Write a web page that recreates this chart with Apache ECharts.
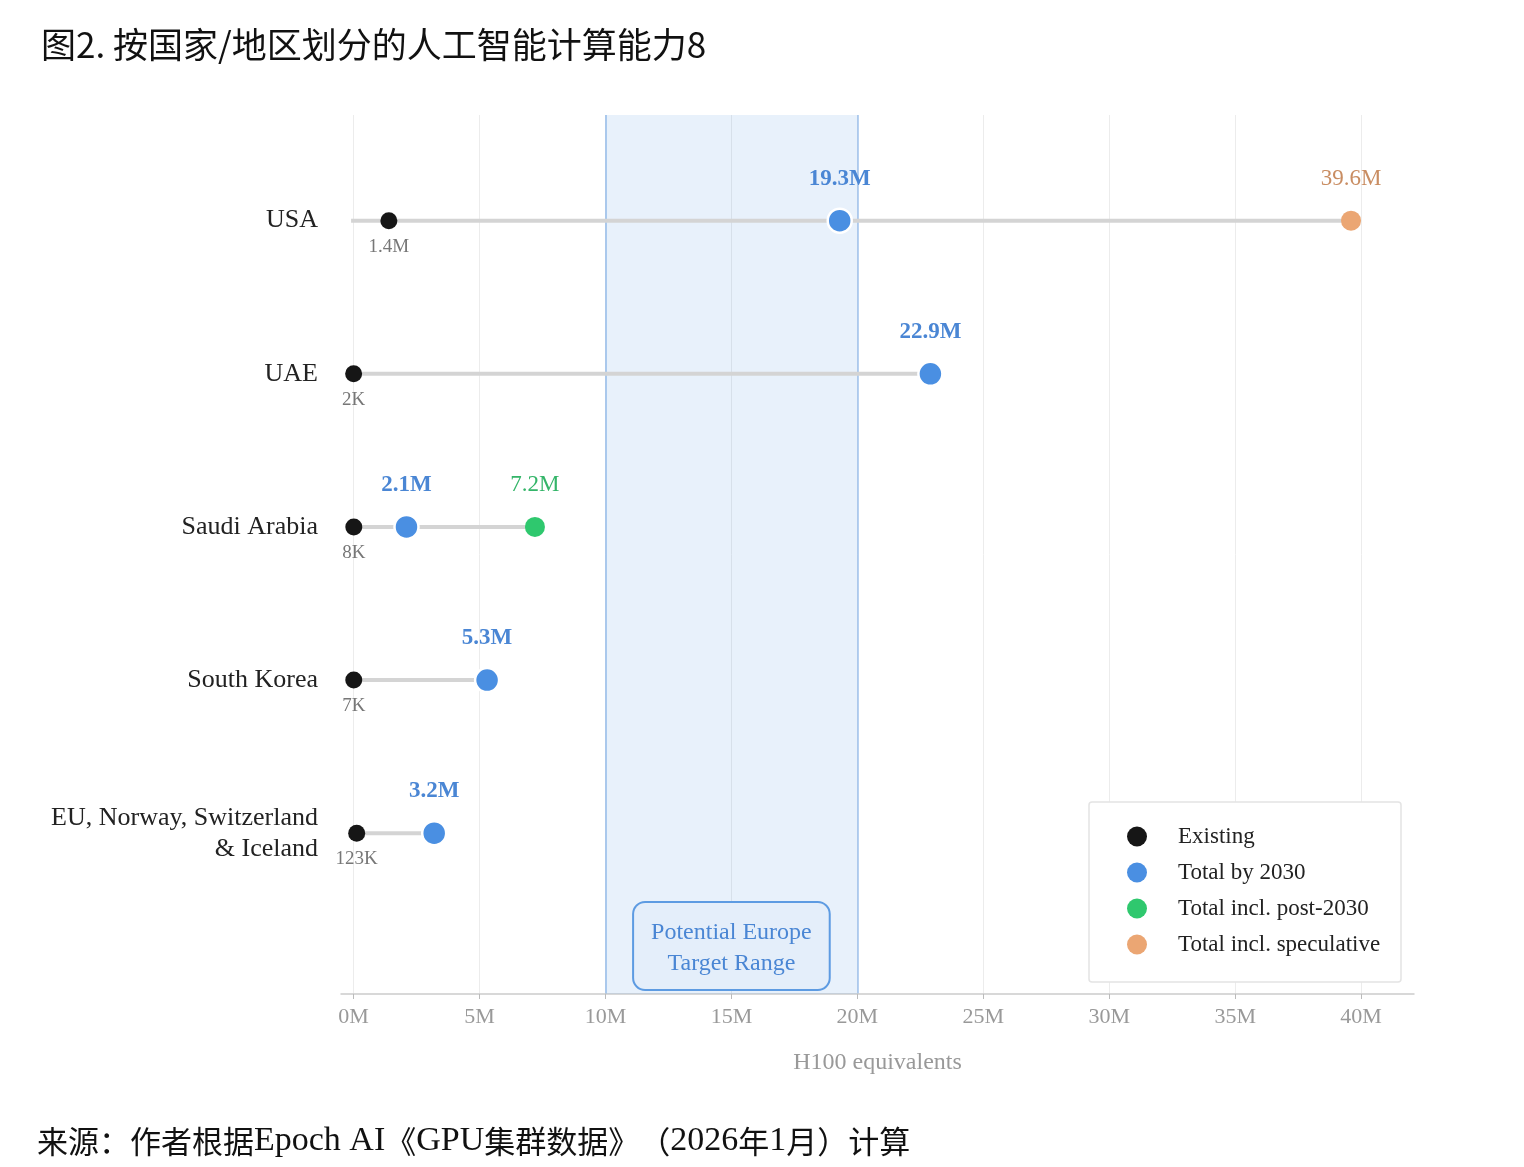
<!DOCTYPE html>
<html>
<head>
<meta charset="utf-8">
<script src="https://cdn.jsdelivr.net/npm/echarts@6/dist/echarts.min.js"></script>
<style>
html, body { margin: 0; padding: 0; background: #fff; }
#main { width: 1524px; height: 1167px; }
</style>
</head>
<body>
<div id="main"></div>
<script>
// data (millions of H100 equivalents)
var countries = ['USA', 'UAE', 'Saudi Arabia', 'South Korea', 'EU, Norway, Switzerland\n& Iceland'];
var existing = [1.4, 0.002, 0.008, 0.007, 0.123];
var existingLabels = ['1.4M', '2K', '8K', '7K', '123K'];
var total2030 = [19.3, 22.9, 2.1, 5.3, 3.2];
var totalPost2030 = [null, null, 7.2, null, null];
var totalSpeculative = [39.6, null, null, null, null];
var xTicks = [0, 5, 10, 15, 20, 25, 30, 35, 40];
var targetRange = [10, 20];

var serif = 'Liberation Serif';
var cjk = 'Noto Sans CJK SC';
var blue = '#4a8fe2';

function points(arr) {
    var out = [];
    arr.forEach(function (v, i) {
        if (v != null) out.push([v, i]);
    });
    return out;
}

// grey connector from 0 to the largest value in each row
var rowMax = countries.map(function (c, i) {
    return Math.max(existing[i], total2030[i] || 0, totalPost2030[i] || 0, totalSpeculative[i] || 0);
});
var connectors = rowMax.map(function (m, i) { return [m, i]; });

var gridLines = xTicks.map(function (t) { return { xAxis: t }; });
gridLines.push({ xAxis: targetRange[0], lineStyle: { color: '#9fc2ec', width: 1.5, type: 'solid' } });
gridLines.push({ xAxis: targetRange[1], lineStyle: { color: '#9fc2ec', width: 1.5, type: 'solid' } });

// source line: CJK parts in a CJK font, latin parts in serif
var sourceText = '{c|来源：作者根据}{l|Epoch AI}{c|《}{l|GPU}{c|集群数据》}{c|（}{l|2026}{c|年}{l|1}{c|月）}{c|计算}';

var chart = echarts.init(document.getElementById('main'));

var option = {
    backgroundColor: '#fff',
    animation: false,
    title: {
        text: '图2. 按国家/地区划分的人工智能计算能力8',
        left: 36,
        top: 22,
        textStyle: { fontFamily: cjk, fontSize: 35, fontWeight: 'normal', color: '#111' }
    },
    graphic: [
        {
            type: 'text',
            left: 37,
            top: 1124,
            style: {
                text: sourceText,
                rich: {
                    c: { fontFamily: cjk, fontSize: 31, fill: '#111' },
                    l: { fontFamily: serif, fontSize: 34, fill: '#111' }
                }
            }
        },
        {
            type: 'rect',
            z: 10,
            shape: { x: 1089, y: 802, width: 312, height: 180, r: 3 },
            style: { fill: '#fff', stroke: '#e4e4e4', lineWidth: 1.5 }
        }
    ],
    legend: {
        orient: 'vertical',
        left: 1127,
        top: 825,
        padding: 0,
        z: 20,
        itemWidth: 20,
        itemHeight: 20,
        itemGap: 13,
        icon: 'circle',
        itemStyle: { borderWidth: 0, opacity: 1 },
        textStyle: { fontFamily: serif, fontSize: 23, color: '#222', padding: [0, 0, 0, 26] },
        data: ['Existing', 'Total by 2030', 'Total incl. post-2030', 'Total incl. speculative']
    },
    grid: { left: 341, right: 110, top: 115, bottom: 173 },
    xAxis: {
        type: 'value',
        min: -0.5,
        max: 42.1,
        splitLine: { show: false },
        axisLine: { show: true, onZero: false, lineStyle: { color: '#cccccc', width: 1.5 } },
        axisTick: { show: true, length: 5, customValues: xTicks, lineStyle: { color: '#bbbbbb' } },
        axisLabel: {
            customValues: xTicks,
            margin: 12,
            fontFamily: serif,
            fontSize: 22,
            color: '#999',
            formatter: function (v) { return v + 'M'; }
        },
        name: 'H100 equivalents',
        nameLocation: 'middle',
        nameGap: 57,
        nameTextStyle: { fontFamily: serif, fontSize: 24, color: '#999' }
    },
    yAxis: {
        type: 'value',
        inverse: true,
        min: -0.69,
        max: 5.05,
        splitLine: { show: false },
        axisLine: { show: false },
        axisTick: { show: false },
        axisLabel: {
            customValues: [0, 1, 2, 3, 4],
            margin: 23,
            fontFamily: serif,
            fontSize: 26,
            lineHeight: 31,
            color: '#222',
            align: 'right',
            formatter: function (v) { return countries[Math.round(v)]; }
        }
    },
    series: [
        {
            // background: target band and vertical grid lines
            type: 'line',
            name: 'background',
            z: 0,
            silent: true,
            data: [],
            markArea: {
                silent: true,
                z: 1,
                itemStyle: { color: 'rgba(74,143,226,0.13)' },
                label: {
                    show: true,
                    position: 'insideBottom',
                    distance: 5,
                    formatter: 'Potential Europe\nTarget Range',
                    fontFamily: serif,
                    fontSize: 24,
                    lineHeight: 31,
                    color: '#4a86d4',
                    backgroundColor: '#e4eefa',
                    padding: [14, 17, 10, 17],
                    borderColor: '#5d9be2',
                    borderWidth: 2,
                    borderRadius: 11
                },
                data: [[{ xAxis: targetRange[0] }, { xAxis: targetRange[1] }]]
            },
            markLine: {
                silent: true,
                z: 0,
                symbol: 'none',
                label: { show: false },
                lineStyle: { color: '#ececec', width: 1, type: 'solid' },
                data: gridLines
            }
        },
        {
            type: 'custom',
            name: 'connector',
            z: 2,
            silent: true,
            data: connectors,
            renderItem: function (params, api) {
                var a = api.coord([-0.1, api.value(1)]);
                var b = api.coord([api.value(0), api.value(1)]);
                return {
                    type: 'line',
                    shape: { x1: a[0], y1: a[1], x2: b[0], y2: b[1] },
                    style: { stroke: '#d4d4d4', lineWidth: 4 }
                };
            }
        },
        {
            type: 'scatter',
            name: 'Existing',
            z: 3,
            symbolSize: 17,
            itemStyle: { color: '#161616', opacity: 1 },
            label: {
                show: true,
                position: 'bottom',
                distance: 8,
                fontFamily: serif,
                fontSize: 19,
                color: '#777',
                formatter: function (p) { return existingLabels[p.value[1]]; }
            },
            data: points(existing)
        },
        {
            type: 'scatter',
            name: 'Total by 2030',
            z: 4,
            symbolSize: 24,
            itemStyle: { color: blue, borderColor: '#fff', borderWidth: 2.5, opacity: 1 },
            label: {
                show: true,
                position: 'top',
                distance: 17,
                fontFamily: serif,
                fontSize: 23,
                fontWeight: 'bold',
                color: '#4a86d4',
                formatter: function (p) { return p.value[0] + 'M'; }
            },
            data: points(total2030)
        },
        {
            type: 'scatter',
            name: 'Total incl. post-2030',
            z: 4,
            symbolSize: 20,
            itemStyle: { color: '#2fc86e', opacity: 1 },
            label: {
                show: true,
                position: 'top',
                distance: 20,
                fontFamily: serif,
                fontSize: 23,
                color: '#34b569',
                formatter: function (p) { return p.value[0] + 'M'; }
            },
            data: points(totalPost2030)
        },
        {
            type: 'scatter',
            name: 'Total incl. speculative',
            z: 4,
            symbolSize: 20,
            itemStyle: { color: '#eba673', opacity: 1 },
            label: {
                show: true,
                position: 'top',
                distance: 20,
                fontFamily: serif,
                fontSize: 23,
                color: '#c98d62',
                formatter: function (p) { return p.value[0] + 'M'; }
            },
            data: points(totalSpeculative)
        }
    ]
};

chart.setOption(option);
</script>
</body>
</html>
